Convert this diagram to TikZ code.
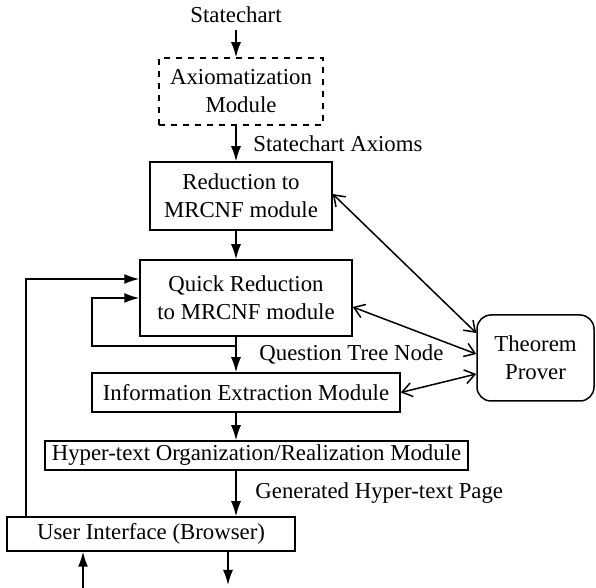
\documentclass[tikz,border=0pt]{standalone}
\usepackage{fontspec}
\setmainfont{Liberation Serif}
\usetikzlibrary{arrows.meta, positioning}

\tikzset{
  modbox/.style={draw, align=center, inner sep=0pt},
  flow/.style={-{Latex[length=7.5pt,width=5pt]}},
  talk/.style={{Straight Barb[length=5pt,width=7pt]}-{Straight Barb[length=5pt,width=7pt]}},
}

\begin{document}
\begin{tikzpicture}[x=0.5pt, y=-0.5pt, line width=0.75pt,
    every node/.style={font=\fontsize{11.4}{14}\selectfont}]

        \useasboundingbox (0,0) rectangle (596,588);

        % the modules
        \node (stchart) at (236,15) {Statechart};
        \node[modbox, dashed, minimum width=82pt, minimum height=33.5pt] (axiom) at (241,91.5) {Axiomatization\\Module};
        \node[modbox, minimum width=91pt, minimum height=34pt] (reduce) at (241,196) {Reduction to\\MRCNF module};
        \node[modbox, minimum width=106pt, minimum height=38pt] (quick) at (246,298) {Quick Reduction\\to MRCNF module};
        \node[modbox, minimum width=154pt, minimum height=19.5pt] (info) at (246,392.5) {Information Extraction Module};
        \node[modbox, minimum width=211.5pt, minimum height=14.5pt] (hyper) at (256.5,455.5) {Hyper-text Organization/Realization Module};
        \node[modbox, minimum width=144pt, minimum height=17pt] (ui) at (151,534) {User Interface (Browser)};
        \node[modbox, rounded corners=7pt, minimum width=58.5pt, minimum height=43pt] (prover) at (535.5,358) {Theorem\\Prover};

        \coordinate (split) at (236,346);
        \coordinate (loopcorner) at (92,346);
        \coordinate (backup) at (26,0);
        \coordinate (userin) at (83,588);
        \coordinate (userout) at (228,588);

        % main flow
        \draw[flow] (stchart) -- (stchart |- axiom.north);
        \draw[flow] (stchart |- axiom.south) -- (stchart |- reduce.north)
            node[midway, right=5pt] (axlabel) {Statechart Axioms};
        \draw[flow] (stchart |- reduce.south) -- (stchart |- quick.north);
        \draw[flow] (stchart |- quick.south) -- (stchart |- info.north)
            node[midway, right=8pt] (qlabel) {Question Tree Node};
        \draw[flow] (stchart |- info.south) -- (stchart |- hyper.north);
        \draw[flow] (stchart |- hyper.south) -- (stchart |- ui.north)
            node[midway, right=6pt] (plabel) {Generated Hyper-text Page};

        % loops back into the quick reduction
        \draw[flow] (split) -- (loopcorner) |- (quick.west);
        \draw[flow] (backup |- ui.north) |- ([yshift=9.5pt]quick.west);

        % user in and out
        \draw[flow] (userin) -- (userin |- ui.south);
        \draw[flow] (userout |- ui.south) -- ([yshift=1.5pt]userout);

        % theorem prover
        \draw[talk] ([yshift=1pt]reduce.east) -- ([yshift=12.5pt]prover.west);
        \draw[talk] ([yshift=-4.5pt]quick.east) -- ([yshift=2pt]prover.west);
        \draw[talk] (info.east) -- ([yshift=-8pt]prover.west);

\end{tikzpicture}
\end{document}
